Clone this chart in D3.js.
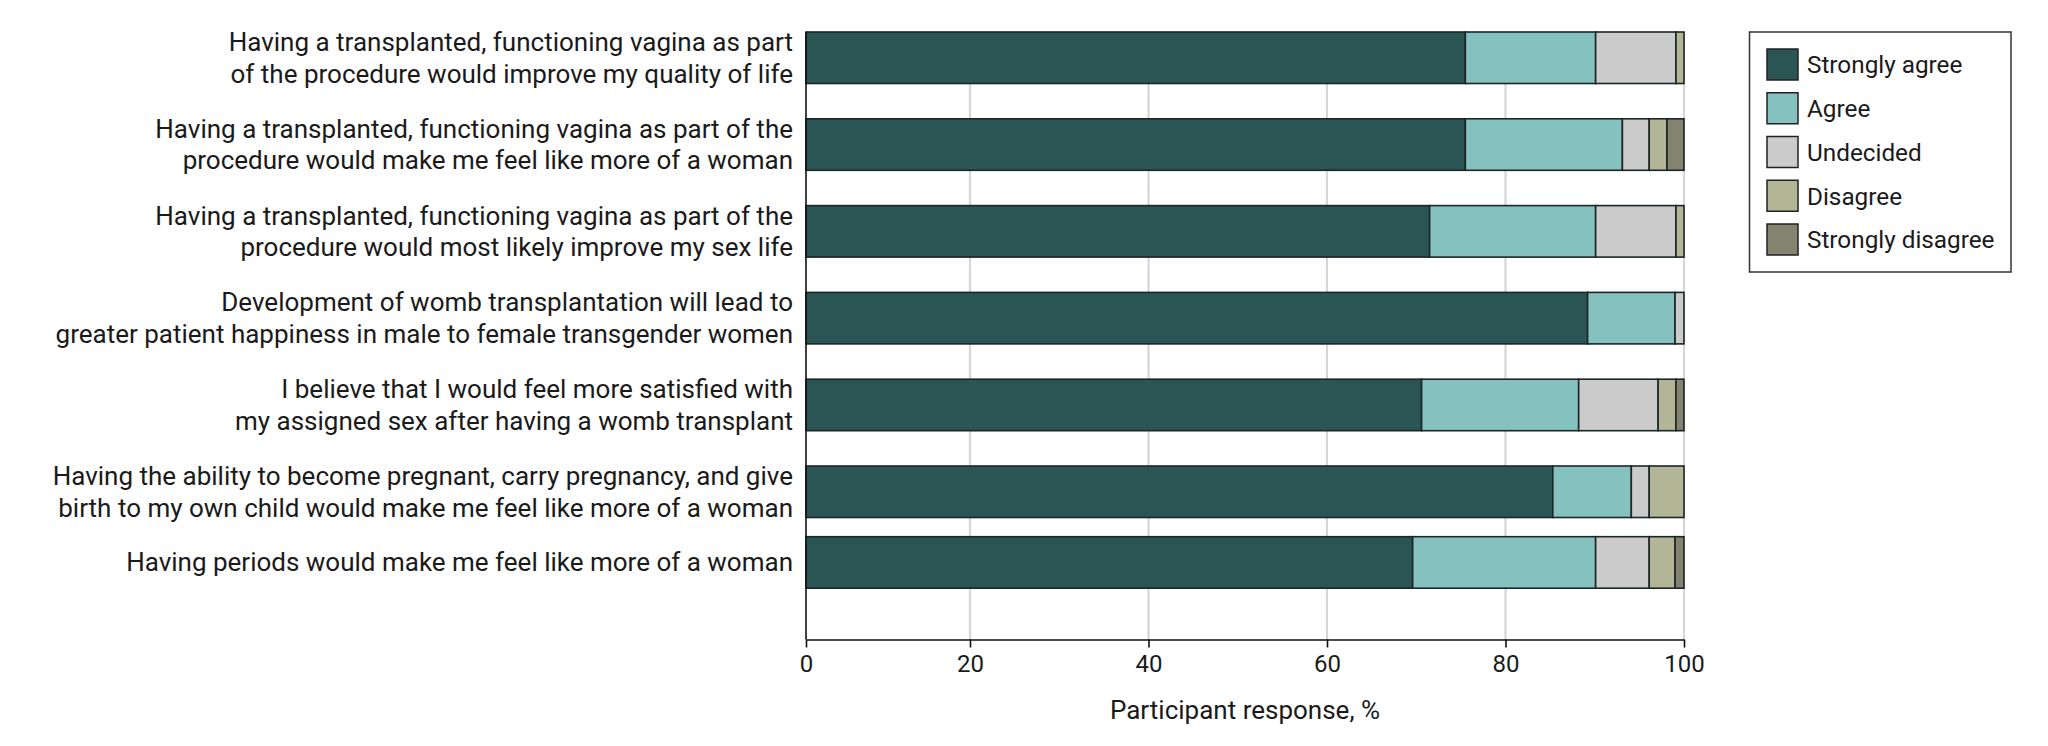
<!DOCTYPE html>
<html><head><meta charset="utf-8">
<script src="https://cdn.jsdelivr.net/npm/d3@7"></script>
<style>body{margin:0;background:#fff}svg{display:block}</style>
</head><body><svg id="c" width="2048" height="746"></svg>
<script>
const categories = [
  ["Having a transplanted, functioning vagina as part", "of the procedure would improve my quality of life"],
  ["Having a transplanted, functioning vagina as part of the", "procedure would make me feel like more of a woman"],
  ["Having a transplanted, functioning vagina as part of the", "procedure would most likely improve my sex life"],
  ["Development of womb transplantation will lead to", "greater patient happiness in male to female transgender women"],
  ["I believe that I would feel more satisfied with", "my assigned sex after having a womb transplant"],
  ["Having the ability to become pregnant, carry pregnancy, and give", "birth to my own child would make me feel like more of a woman"],
  ["Having periods would make me feel like more of a woman"]
];
const responses = ["Strongly agree", "Agree", "Undecided", "Disagree", "Strongly disagree"];
const stronglyAgree    = [75.5, 75.5, 71.5, 89.2, 70.6, 85.3, 69.6];
const agree            = [14.6, 17.6, 18.6,  9.8, 17.6,  8.8, 20.5];
const undecided        = [ 9.0,  3.0,  9.0,  1.0,  8.9,  2.0,  6.0];
const disagree         = [ 0.9,  2.0,  0.9,  0.0,  2.0,  3.9,  2.9];
const stronglyDisagree = [ 0.0,  1.9,  0.0,  0.0,  0.9,  0.0,  1.0];
const xTicks = [0, 20, 40, 60, 80, 100];
const xTitle = "Participant response, %";
const colors = ["#2b5455", "#85c2bf", "#cbcbcb", "#b3b597", "#838370"];

const FONT = "Roboto, 'Noto Sans', sans-serif";
const TXT = "#1a1a1a";
const svg = d3.select("#c");

const plotTop = 32, plotBottom = 639.5;
const x = d3.scaleLinear().domain([0, 20, 100]).range([806, 970, 1684]);
const rowY = d3.scaleLinear().domain([0, 5, 6]).range([32, 466, 536.7]);
const barH = 51.5;

const series = [stronglyAgree, agree, undecided, disagree, stronglyDisagree];
const rows = categories.map((c, i) => {
  const o = {i};
  responses.forEach((r, k) => o[r] = series[k][i]);
  return o;
});
const stacked = d3.stack().keys(responses)(rows);

// gridlines
svg.append("g").selectAll("line").data(xTicks.filter(t => t > 0)).join("line")
  .attr("x1", d => x(d)).attr("x2", d => x(d))
  .attr("y1", plotTop).attr("y2", plotBottom)
  .attr("stroke", "#d6d6d6").attr("stroke-width", 2.2);

// bars
svg.append("g").selectAll("g").data(stacked).join("g")
  .attr("fill", (d, k) => colors[k])
  .selectAll("rect").data(d => d.filter(s => s[1] - s[0] > 0)).join("rect")
  .attr("x", d => x(d[0])).attr("width", d => x(d[1]) - x(d[0]))
  .attr("y", d => rowY(d.data.i)).attr("height", barH)
  .attr("stroke", "#1c2626").attr("stroke-width", 1.6);

// left axis line
svg.append("line").attr("x1", x(0)).attr("x2", x(0)).attr("y1", plotTop).attr("y2", plotBottom)
  .attr("stroke", "#111").attr("stroke-width", 1.6);

// bottom axis
const ax = svg.append("g").attr("transform", `translate(0,${plotBottom})`)
  .call(d3.axisBottom(x).tickValues(xTicks).tickFormat(d3.format("d")).tickSize(8).tickSizeOuter(0).tickPadding(7));
ax.select(".domain").attr("stroke", "#111").attr("stroke-width", 1.6);
ax.selectAll(".tick line").attr("stroke", "#111").attr("stroke-width", 1.6);
ax.selectAll(".tick text").attr("font-family", FONT).attr("font-size", 24).attr("fill", TXT);

svg.append("text").attr("x", (x(0) + x(100)) / 2).attr("y", 719)
  .attr("text-anchor", "middle").attr("font-family", FONT).attr("font-size", 26).attr("fill", TXT)
  .text(xTitle);

// category labels
const lineH = 31.6;
const lab = svg.append("g").attr("font-family", FONT).attr("font-size", 26).attr("fill", TXT).attr("text-anchor", "end");
categories.forEach((lines, i) => {
  const cy = rowY(i) + barH / 2;
  const t = lab.append("text");
  lines.forEach((ln, j) => {
    t.append("tspan").attr("x", 793)
      .attr("y", cy + (j - (lines.length - 1) / 2) * lineH + 9)
      .text(ln);
  });
});

// legend
const lg = svg.append("g");
lg.append("rect").attr("x", 1749.5).attr("y", 32).attr("width", 261.5).attr("height", 240)
  .attr("fill", "#fff").attr("stroke", "#333").attr("stroke-width", 1.5);
const ly = d3.scalePoint().domain(responses).range([64.5, 239.5]);
responses.forEach((r, k) => {
  lg.append("rect").attr("x", 1767).attr("y", ly(r) - 15.5).attr("width", 31).attr("height", 31)
    .attr("fill", colors[k]).attr("stroke", "#222").attr("stroke-width", 1.5);
  lg.append("text").attr("x", 1807).attr("y", ly(r) + 8.8)
    .attr("font-family", FONT).attr("font-size", 24.3).attr("fill", TXT).text(r);
});
</script></body></html>
